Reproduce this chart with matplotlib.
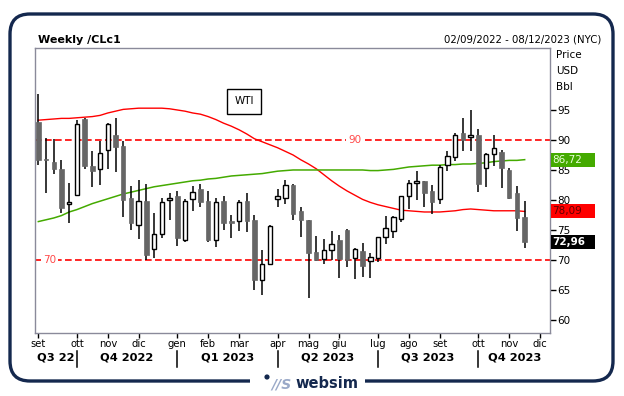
import matplotlib
matplotlib.use("Agg")
import matplotlib.pyplot as plt
from matplotlib.patches import Rectangle, FancyBboxPatch, Circle
from matplotlib.transforms import IdentityTransform, blended_transform_factory
import numpy as np

W, H = 624, 396

# ---- data (weekly WTI candles) ----
opens  = [93.06, 86.9, 86.3, 85.1, 79.3, 80.9, 93.5, 85.7, 85.1, 88.3, 90.9, 89.0, 80.3, 75.9, 79.9, 71.8,
          74.4, 80.0, 80.7, 73.4, 80.1, 81.8, 79.9, 73.3, 79.9, 76.5, 76.5, 79.9, 76.7, 66.6, 69.4, 80.1,
          80.4, 82.5, 78.1, 76.7, 71.4, 70.1, 71.6, 73.3, 75.0, 70.3, 71.5, 69.8, 70.4, 73.8, 74.9, 76.9,
          80.7, 82.8, 83.1, 81.5, 80.1, 85.9, 87.2, 91.1, 90.5, 90.8, 85.3, 87.6, 88.0, 85.0, 81.2, 77.2]
highs  = [97.6, 90.3, 90.1, 86.7, 82.9, 93.3, 93.6, 88.2, 89.8, 92.8, 93.6, 89.8, 82.3, 83.3, 82.7, 77.8,
          80.3, 81.2, 81.5, 80.2, 82.3, 82.7, 81.5, 80.3, 80.7, 77.5, 80.0, 81.1, 77.5, 71.7, 75.8, 81.8,
          83.4, 82.6, 78.8, 76.7, 74.0, 73.5, 74.9, 74.1, 75.2, 72.0, 72.8, 71.1, 73.9, 77.3, 77.3, 80.7,
          83.3, 84.8, 83.1, 82.5, 85.8, 88.1, 91.1, 93.6, 95.0, 91.8, 87.8, 90.8, 88.3, 85.3, 82.3, 79.8]
lows   = [85.8, 81.1, 84.3, 77.9, 76.2, 80.7, 85.1, 82.1, 82.5, 85.2, 84.6, 77.2, 75.0, 73.5, 70.0, 70.3,
          73.7, 76.7, 72.4, 73.0, 78.1, 78.8, 73.0, 72.2, 75.0, 73.7, 74.9, 74.7, 65.05, 64.1, 69.2, 78.9,
          79.3, 76.7, 73.9, 63.6, 69.9, 69.4, 70.0, 67.05, 68.9, 66.8, 67.2, 67.05, 69.6, 72.6, 73.7, 76.4,
          78.5, 80.0, 78.9, 77.6, 79.3, 84.9, 86.5, 88.2, 88.1, 81.4, 82.2, 85.6, 82.0, 80.1, 74.9, 72.0]
closes = [86.67, 86.7, 85.1, 78.7, 79.6, 92.6, 85.6, 84.9, 87.8, 92.6, 88.9, 80.0, 76.2, 79.9, 70.9, 74.3,
          79.6, 80.3, 73.7, 79.8, 81.3, 79.6, 73.3, 79.6, 76.2, 76.2, 79.6, 76.5, 66.7, 69.3, 75.6, 80.6,
          82.5, 77.7, 76.7, 71.2, 70.0, 71.7, 72.6, 70.1, 70.0, 71.8, 69.05, 70.5, 73.8, 75.4, 77.1, 80.6,
          82.8, 83.1, 81.2, 79.7, 85.5, 87.4, 90.8, 90.0, 90.8, 82.7, 87.6, 88.7, 85.4, 80.4, 77.0, 72.96]

ma_red = [93.3, 93.4, 93.5, 93.6, 93.6, 93.7, 93.8, 93.9, 94.1, 94.5, 94.8, 95.1, 95.2, 95.3, 95.3, 95.3,
          95.3, 95.2, 95.0, 94.8, 94.5, 94.3, 93.9, 93.4, 92.8, 92.3, 91.7, 91.0, 90.2, 89.7, 89.2, 88.7,
          88.1, 87.5, 86.7, 86.0, 85.2, 84.2, 83.2, 82.3, 81.5, 80.8, 80.1, 79.6, 79.2, 78.9, 78.6, 78.3,
          78.2, 78.1, 78.0, 78.0, 78.0, 78.1, 78.2, 78.4, 78.5, 78.4, 78.3, 78.2, 78.2, 78.2, 78.2, 78.09]
ma_green = [76.4, 76.7, 77.0, 77.4, 78.0, 78.4, 78.9, 79.4, 79.8, 80.2, 80.6, 81.0, 81.3, 81.6, 81.9, 82.2,
            82.4, 82.6, 82.8, 83.0, 83.2, 83.3, 83.5, 83.6, 83.8, 84.0, 84.1, 84.2, 84.3, 84.4, 84.6, 84.8,
            84.9, 85.0, 85.0, 85.0, 85.0, 85.0, 85.0, 85.0, 85.0, 85.0, 85.0, 84.9, 84.9, 85.0, 85.1, 85.3,
            85.5, 85.6, 85.7, 85.8, 85.8, 85.9, 85.9, 86.0, 86.0, 86.1, 86.2, 86.4, 86.5, 86.6, 86.6, 86.72]

month_pos    = [0, 5, 9, 13, 18, 22, 26, 31, 35, 39, 44, 48, 52, 57, 61, 65]
month_labels = ["set", "ott", "nov", "dic", "gen", "feb", "mar", "apr", "mag", "giu",
                "lug", "ago", "set", "ott", "nov", "dic"]
quarter_sep    = [5, 18, 31, 44, 57]
quarter_pos    = [2.2, 11.5, 24.5, 37.5, 50.5, 61.7]
quarter_labels = ["Q3 22", "Q4 2022", "Q1 2023", "Q2 2023", "Q3 2023", "Q4 2023"]
y_ticks = [60, 65, 70, 75, 80, 85, 90, 95]
ref_levels = [90, 70]
ref_label_pos = [40.1, 0.6]
last_values = [86.72, 78.09, 72.96]
last_labels = ["86,72", "78,09", "72,96"]

plt.rcParams['font.family'] = ['DejaVu Sans']

fig = plt.figure(figsize=(W / 100, H / 100), dpi=100)
ax = fig.add_axes([35 / W, 1 - 333 / H, (550 - 35) / W, (333 - 48) / H])
ax.set_xlim(-0.43, 66.28)
ax.set_ylim(57.83, 105.33)

# candles
for i, (o, h, l, c) in enumerate(zip(opens, highs, lows, closes)):
    ax.vlines(i, l, h, color='black', lw=1.1, zorder=3)
    lo = min(o, c)
    bh = max(abs(c - o), 0.18)
    if c >= o:
        ax.add_patch(Rectangle((i - 0.29, lo), 0.58, bh, facecolor='white',
                               edgecolor='black', lw=1.0, zorder=4))
    else:
        ax.add_patch(Rectangle((i - 0.29, lo), 0.58, bh, facecolor='#666666',
                               edgecolor='#666666', lw=0.5, zorder=4))

idx = np.arange(len(ma_red))
ax.plot(idx, ma_red, color='#ff0000', lw=1.0, zorder=2)
ax.plot(idx, ma_green, color='#44aa00', lw=1.1, zorder=2)

for lev, xp in zip(ref_levels, ref_label_pos):
    ax.axhline(lev, color='#ff0000', lw=1.2, ls=(0, (4, 2)), zorder=1)
    ax.text(xp, lev, str(lev), color='#ff4a4a', fontsize=7.5, ha='left', va='center',
            zorder=5, bbox=dict(facecolor='white', edgecolor='none', pad=1.2))

# axes styling
for s in ax.spines.values():
    s.set_color('#8a8a9a')
    s.set_linewidth(1.0)
ax.yaxis.tick_right()
ax.set_yticks(y_ticks)
ax.set_yticklabels([str(v) for v in y_ticks])
ax.tick_params(axis='y', direction='out', length=4, width=1, color='black',
               labelsize=7.5, pad=1)
ax.set_xticks(month_pos)
ax.set_xticklabels(month_labels)
ax.tick_params(axis='x', direction='out', length=3.5, width=1, color='black',
               labelsize=7.2, pad=0.5)

bt = blended_transform_factory(ax.transData, ax.transAxes)
for q in quarter_sep:
    ax.plot([q, q], [(333 - 351) / 285, (333 - 367) / 285], color='black', lw=1.1,
            transform=bt, clip_on=False)
for qp, ql in zip(quarter_pos, quarter_labels):
    ax.text(qp, (333 - 358) / 285, ql, transform=bt, ha='center', va='center',
            fontsize=8.2, fontweight='bold', color='black')

# last-value boxes on the right
bfy = blended_transform_factory(fig.transFigure, ax.transData)
box_styles = [('#44aa00', '#e8ffd8', 'normal'), ('#ff0000', '#600000', 'normal'),
              ('#000000', 'white', 'bold')]
for v, lab, (fc, tc, fw) in zip(last_values, last_labels, box_styles):
    fig.add_artist(Rectangle((551 / W, v - 1.17), 44 / W, 2.34, facecolor=fc,
                             edgecolor='none', transform=bfy, zorder=6))
    fig.text(552 / W, v, lab, transform=bfy, color=tc, fontsize=7.5, fontweight=fw,
             ha='left', va='center', zorder=7)

def P(x, y):
    return (x, H - y)

px = IdentityTransform()
for t, yy in zip(["Price", "USD", "Bbl"], [55, 71.5, 87]):
    fig.text(556 / W, 1 - yy / H, t, fontsize=7.5, ha='left', va='center')

fig.text(38 / W, 1 - 40 / H, "Weekly /CLc1", fontsize=8, fontweight='bold',
         ha='left', va='center')
fig.text(601 / W, 1 - 40 / H, "02/09/2022 - 08/12/2023 (NYC)", fontsize=7.3,
         ha='right', va='center')

# WTI legend box
fig.add_artist(Rectangle(P(227, 114), 34, 25, facecolor='white', edgecolor='black',
                         lw=1.0, transform=px, zorder=6))
fig.text(244 / W, 1 - 101.5 / H, "WTI", fontsize=7.5, ha='center', va='center', zorder=7)

# outer frame
fig.add_artist(FancyBboxPatch(P(10, 381), 603, 367,
                              boxstyle='round,pad=0,rounding_size=20',
                              facecolor='none', edgecolor='#14284e', lw=2.4,
                              transform=px, zorder=0))
# logo area
fig.add_artist(Rectangle(P(250, 392), 115, 20, facecolor='white', edgecolor='none',
                         transform=px, zorder=1))
fig.add_artist(Circle(P(267, 377), 2.6, facecolor='#14284e', edgecolor='none',
                      transform=px, zorder=2))
fig.text(281 / W, 1 - 385 / H, "//S", fontsize=10, fontstyle='italic', fontweight='bold',
         color='#9aa9c8', ha='center', va='center', zorder=2)
fig.text(327 / W, 1 - 384 / H, "websim", fontsize=10.5, fontweight='bold',
         color='#14284e', ha='center', va='center', zorder=2)

fig.savefig("out.png", dpi=100)
